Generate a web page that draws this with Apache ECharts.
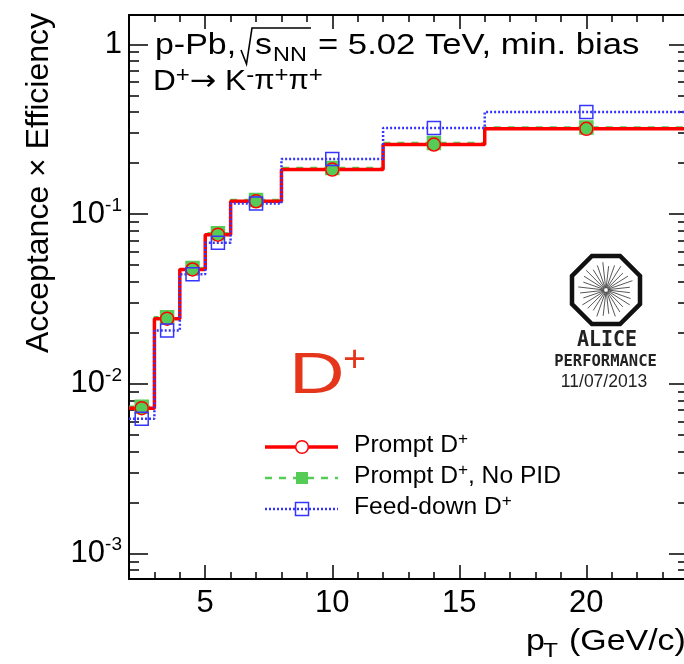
<!DOCTYPE html>
<html><head><meta charset="utf-8">
<script src="https://cdn.jsdelivr.net/npm/echarts@6/dist/echarts.min.js"></script>
<style>html,body{margin:0;padding:0;background:#fff}#c{width:684px;height:664px}</style>
</head><body><div id="c"></div>
<script>
// ---- data ----
const binEdges = [2, 3, 4, 5, 6, 8, 12, 16, 24];
const binCenters = [2.5, 3.5, 4.5, 5.5, 7, 10, 14, 20];
const promptEff = [0.00719, 0.0242, 0.0472, 0.0757, 0.119, 0.183, 0.257, 0.318];
const promptNoPidEff = [0.00733, 0.0247, 0.0481, 0.0772, 0.1213, 0.187, 0.262, 0.324];
const feedDownEff = [0.00622, 0.0206, 0.0442, 0.0679, 0.1153, 0.2113, 0.322, 0.400];
const xMajorTicks = [5, 10, 15, 20];
const xMinorTicks = [3, 4, 6, 7, 8, 9, 11, 12, 13, 14, 16, 17, 18, 19, 21, 22, 23];
const yMajorTicks = [0.001, 0.01, 0.1, 1];
const yMinorTicks = [0.0008, 0.0009,
  0.002, 0.003, 0.004, 0.005, 0.006, 0.007, 0.008, 0.009,
  0.02, 0.03, 0.04, 0.05, 0.06, 0.07, 0.08, 0.09,
  0.2, 0.3, 0.4, 0.5, 0.6, 0.7, 0.8, 0.9];
const xRange = [2, 24];
const yRange = [7.08e-4, 1.49];
const legendLabels = ['Prompt D', 'Prompt D', 'Feed-down D'];

// ---- styles ----
const FONT = 'Liberation Sans';
const RED = '#ff0000', GREEN = '#55cc55', BLUE = '#3535ff';

function stepPoints(vals) {
  const pts = [];
  vals.forEach((v, i) => { pts.push([binEdges[i], v]); pts.push([binEdges[i + 1], v]); });
  return pts;
}
function markers(vals) { return binCenters.map((x, i) => [x, vals[i]]); }

function xAx(pos, ticks, len, line, label) {
  return {
    type: 'value', position: pos, min: xRange[0], max: xRange[1],
    axisLine: { show: line, onZero: false, lineStyle: { color: '#000', width: 2 } },
    axisTick: { show: true, inside: true, length: len, customValues: ticks, lineStyle: { color: '#000', width: 1.5 } },
    axisLabel: label ? { show: true, customValues: ticks, fontSize: 31, fontFamily: FONT, color: '#000', margin: 9 } : { show: false },
    splitLine: { show: false }
  };
}
function yAx(pos, ticks, len, line, label) {
  return {
    type: 'log', logBase: 10, position: pos, min: yRange[0], max: yRange[1],
    axisLine: { show: line, onZero: false, lineStyle: { color: '#000', width: 2 } },
    axisTick: { show: true, inside: true, length: len, customValues: ticks, lineStyle: { color: '#000', width: 1.5 } },
    axisLabel: label ? {
      show: true, customValues: ticks, margin: 7,
      formatter: v => { const e = Math.round(Math.log10(v)); return e === 0 ? '{b|1}' : '{b|10}{s|' + e + '}'; },
      rich: {
        b: { fontSize: 31, fontFamily: FONT, color: '#000', lineHeight: 36 },
        s: { fontSize: 19, fontFamily: FONT, color: '#000', lineHeight: 13, verticalAlign: 'top' }
      }
    } : { show: false },
    splitLine: { show: false }
  };
}

function lineSeries(vals, color, width, type, z) {
  return { type: 'line', data: stepPoints(vals), showSymbol: false, silent: true, z: z,
    lineStyle: { color: color, width: width, type: type }, xAxisIndex: 0, yAxisIndex: 0 };
}
function markerSeries(vals, symbol, size, fill, stroke, z) {
  return { type: 'scatter', data: markers(vals), symbol: symbol, symbolSize: size, silent: true, z: z,
    itemStyle: { color: fill, borderColor: stroke, borderWidth: 1.5, opacity: 1 }, xAxisIndex: 0, yAxisIndex: 0 };
}

// ---- graphics (text, legend, logo) ----
const g = [];
function txt(x, y, text, size, opts) {
  g.push(Object.assign({ type: 'text', x: x, y: y, silent: true,
    style: Object.assign({ text: text, fontSize: size, fontFamily: FONT, fill: '#000', align: 'left', verticalAlign: 'middle' }, (opts && opts.style) || {}) },
    (opts && opts.el) || {}));
}
// title line 1
txt(155, 46, 'p-Pb,', 29, { el: { scaleX: 1.17 } });
g.push({ type: 'polyline', silent: true, shape: { points: [[241, 50], [246.5, 64], [252, 28], [311, 28]] }, style: { stroke: '#000', lineWidth: 1.6, fill: null } });
txt(255, 46, 's', 29, { el: { scaleX: 1.17 } });
txt(273, 55, 'NN', 20, { el: { scaleX: 1.17 } });
txt(318, 46, '= 5.02 TeV, min. bias', 29, { el: { scaleX: 1.195 } });
// title line 2
txt(153, 82, '{n|D}{s|+}{a|→}{n| K}{m|-}{p|π}{s|+}{p|π}{s|+}', 29, { el: { scaleX: 1.09 }, style: {
  rich: {
    n: { fontSize: 29, fontFamily: FONT, fill: '#000', lineHeight: 34 },
    a: { fontSize: 29, fontFamily: 'DejaVu Sans', fill: '#000', lineHeight: 34 },
    p: { fontSize: 27, fontFamily: FONT, fill: '#000', lineHeight: 34 },
    s: { fontSize: 22, fontFamily: FONT, fill: '#000', lineHeight: 27, verticalAlign: 'top' },
    m: { fontSize: 22, fontFamily: FONT, fill: '#000', lineHeight: 12, verticalAlign: 'top' }
  } } });
// big D+
txt(289, 377.5, 'D', 57, { el: { scaleX: 1.35 }, style: { fill: '#e5361c' } });
txt(343, 361, '+', 36, { el: { scaleX: 1.1 }, style: { fill: '#e5361c' } });
// axis titles
txt(39, 183, 'Acceptance × Efficiency', 32, { el: { rotation: Math.PI / 2 }, style: { align: 'center' } });
txt(526, 642, 'p', 29, { el: { scaleX: 1.17 } });
txt(543, 651, 'T', 21, { el: { scaleX: 1.17 } });
txt(569, 642, '(GeV/c)', 29, { el: { scaleX: 1.17 } });
// legend
const legRows = [447, 478, 509];
const legRich = {
  n: { fontSize: 23, fontFamily: FONT, fill: '#000', lineHeight: 28 },
  s: { fontSize: 16, fontFamily: FONT, fill: '#000', lineHeight: 16, verticalAlign: 'top' }
};
[[RED, 3.5, null], [GREEN, 2.5, [7, 7]], [BLUE, 2.5, [2, 2]]].forEach((st, i) => {
  const y = legRows[i];
  g.push({ type: 'line', silent: true, shape: { x1: 265, y1: y, x2: 338, y2: y }, style: { stroke: st[0], lineWidth: st[1], lineDash: st[2] } });
});
g.push({ type: 'circle', silent: true, shape: { cx: 302, cy: legRows[0], r: 6.3 }, style: { fill: '#fff', stroke: RED, lineWidth: 1.5 } });
g.push({ type: 'rect', silent: true, shape: { x: 296, y: legRows[1] - 6, width: 12, height: 12 }, style: { fill: GREEN } });
g.push({ type: 'rect', silent: true, shape: { x: 295.5, y: legRows[2] - 6.5, width: 13, height: 13 }, style: { fill: 'rgba(0,0,0,0)', stroke: BLUE, lineWidth: 1.5 } });
txt(354, legRows[0] - 1, '{n|' + legendLabels[0] + '}{s|+}', 23, { el: { scaleX: 1.07 }, style: { rich: legRich } });
txt(354, legRows[1] - 1, '{n|' + legendLabels[1] + '}{s|+}{n|, No PID}', 23, { el: { scaleX: 1.07 }, style: { rich: legRich } });
txt(354, legRows[2] - 1, '{n|' + legendLabels[2] + '}{s|+}', 23, { el: { scaleX: 1.07 }, style: { rich: legRich } });
// ALICE logo
(function () {
  const cx = 606, cy = 290, R = 34 / Math.cos(Math.PI / 8);
  const pts = [];
  for (let k = 0; k < 8; k++) { const a = Math.PI / 8 + k * Math.PI / 4; pts.push([cx + R * Math.cos(a), cy + R * Math.sin(a)]); }
  for (let k = 0; k < 28; k++) {
    const a = k * Math.PI * 2 / 28 + 0.05;
    const r1 = 2, r2 = 24 + (k % 3) * 2;
    g.push({ type: 'line', silent: true, shape: { x1: cx + r1 * Math.cos(a), y1: cy + r1 * Math.sin(a), x2: cx + r2 * Math.cos(a + 0.06), y2: cy + r2 * Math.sin(a + 0.06) }, style: { stroke: '#444', lineWidth: 0.9 } });
  }
  g.push({ type: 'polygon', silent: true, shape: { points: pts }, style: { fill: null, stroke: '#111', lineWidth: 4.5 } });
})();
txt(607, 340, 'ALICE', 20, { style: { align: 'center', fontFamily: 'DejaVu Sans Mono', fontWeight: 'bold', fill: '#222' }, el: { scaleY: 1.1 } });
txt(605.5, 361.5, 'PERFORMANCE', 15.5, { style: { align: 'center', fontFamily: 'DejaVu Sans Mono', fontWeight: 'bold', fill: '#222' } });
txt(604, 382.5, '11/07/2013', 17.5, { style: { align: 'center', fill: '#222' } });

const chart = echarts.init(document.getElementById('c'), null, { renderer: 'canvas' });
chart.setOption({
  animation: false,
  backgroundColor: '#fff',
  grid: { left: 129, right: -4, top: 15, bottom: 85, containLabel: false, outerBoundsMode: 'none' },
  xAxis: [xAx('bottom', xMajorTicks, 14, true, true), xAx('bottom', xMinorTicks, 7, false, false),
          xAx('top', xMajorTicks, 14, true, false), xAx('top', xMinorTicks, 7, false, false)],
  yAxis: [yAx('left', yMajorTicks, 19, true, true), yAx('left', yMinorTicks, 10, false, false),
          yAx('right', yMajorTicks, 19, true, false), yAx('right', yMinorTicks, 10, false, false)],
  series: [
    lineSeries(promptNoPidEff, GREEN, 2.5, [7, 7], 2),
    lineSeries(promptEff, RED, 3.5, 'solid', 3),
    lineSeries(feedDownEff, BLUE, 2.5, [2, 2], 4),
    markerSeries(promptNoPidEff, 'rect', 13, GREEN, GREEN, 5),
    markerSeries(promptEff, 'circle', 13, 'rgba(0,0,0,0)', RED, 6),
    markerSeries(feedDownEff, 'rect', 13, 'rgba(0,0,0,0)', BLUE, 7)
  ],
  graphic: { elements: g }
});
</script>
</body></html>
